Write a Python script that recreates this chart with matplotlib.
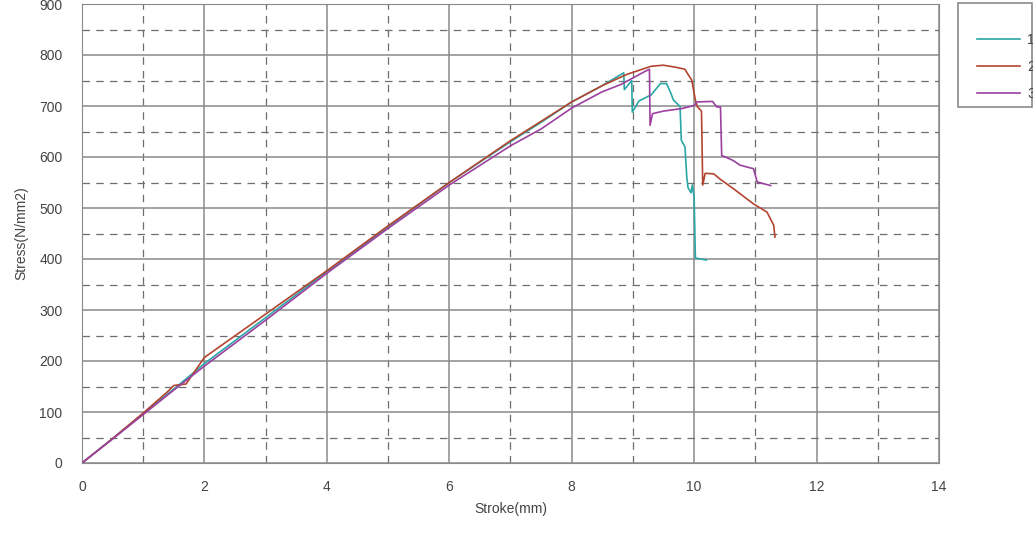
import matplotlib.pyplot as plt
from matplotlib.patches import Rectangle

plt.rcParams['font.family'] = ['Liberation Sans', 'DejaVu Sans']

# specimen 1
stroke1 = [0, 0.5, 1.0, 1.5, 2.0, 3.0, 4.0, 5.0, 6.0, 7.0, 7.5, 8.0, 8.5, 8.85, 8.86,
           8.98, 8.99, 9.1, 9.3, 9.45, 9.55, 9.62, 9.66, 9.77, 9.79, 9.85, 9.88, 9.9,
           9.95, 9.97, 10.0, 10.02, 10.2]
stress1 = [0, 48, 97, 145, 195, 285, 375, 463, 550, 630, 668, 708, 740, 765, 732,
           750, 688, 710, 722, 744, 744, 725, 712, 699, 633, 620, 560, 540,
           530, 545, 520, 402, 398]

# specimen 2
stroke2 = [0, 0.5, 1.0, 1.4, 1.5, 1.7, 2.0, 3.0, 4.0, 5.0, 6.0, 7.0, 8.0, 8.5, 8.9,
           9.1, 9.3, 9.5, 9.7, 9.85, 9.9, 9.96, 10.02, 10.05, 10.12, 10.14, 10.18,
           10.32, 10.42, 10.64, 10.86, 10.97, 11.19, 11.3, 11.32]
stress2 = [0, 48, 98, 140, 152, 155, 207, 292, 377, 465, 550, 632, 708, 740, 762,
           770, 778, 780, 776, 772, 762, 751, 712, 699, 690, 545, 568,
           567, 557, 538, 518, 508, 492, 466, 443]

# specimen 3
stroke3 = [0, 0.5, 1.0, 1.5, 2.0, 3.0, 4.0, 5.0, 6.0, 7.0, 7.5, 8.0, 8.5, 8.8, 9.0,
           9.2, 9.27, 9.28, 9.32, 9.5, 9.8, 10.0, 10.05, 10.3, 10.37, 10.43, 10.45,
           10.51, 10.64, 10.75, 10.97, 11.03, 11.25]
stress3 = [0, 47, 95, 143, 190, 280, 372, 460, 545, 622, 655, 696, 728, 742, 755,
           768, 772, 662, 685, 690, 695, 701, 708, 709, 698, 698, 603,
           600, 593, 584, 577, 551, 544]

labels = ['1', '2', '3']
colors = ['#2aa6a6', '#b3452f', '#9c40a0']

fig = plt.figure(figsize=(10.33, 5.37), dpi=100)
ax = fig.add_axes([82 / 1033, 1 - 463 / 537, (939 - 82) / 1033, (463 - 4) / 537])

lines = []
for xs, ys, c, lab in zip([stroke1, stroke2, stroke3], [stress1, stress2, stress3], colors, labels):
    ln, = ax.plot(xs, ys, color=c, lw=1.2, label=lab, zorder=3)
    lines.append(ln)

ax.set_xlim(0, 14)
ax.set_ylim(0, 900)
ax.set_xticks(range(0, 15, 2))
ax.set_yticks(range(0, 901, 100))
ax.set_xticks(range(1, 14, 2), minor=True)
ax.set_yticks(range(50, 900, 100), minor=True)
ax.grid(True, which='major', color='#8a8a8a', lw=1.1, ls='-')
ax.grid(True, which='minor', color='#6e6e6e', lw=0.9, ls=(0, (6, 5)))
ax.tick_params(which='both', length=0, labelsize=10, labelcolor='#444444', pad=12)
ax.tick_params(axis='y', pad=14)
for sp in ax.spines.values():
    sp.set_color('#8a8a8a')

ax.set_xlabel('Stroke(mm)', fontsize=10, color='#444444', labelpad=6)
ax.set_ylabel('Stress(N/mm2)', fontsize=10, color='#444444', labelpad=8)

leg = fig.legend(handles=lines, labels=labels, loc='upper left',
                 bbox_to_anchor=(970 / 1033, 1 - 26 / 537), frameon=False,
                 borderpad=0, handlelength=3.1, handletextpad=0.5,
                 labelspacing=0.95, fontsize=10)
for t in leg.get_texts():
    t.set_color('#444444')
fig.patches.append(Rectangle((958 / 1033, 1 - 107 / 537), 74 / 1033, 104 / 537,
                             transform=fig.transFigure, fill=False,
                             edgecolor='#8a8a8a', lw=1.2))

fig.savefig('out.png', dpi=100)
